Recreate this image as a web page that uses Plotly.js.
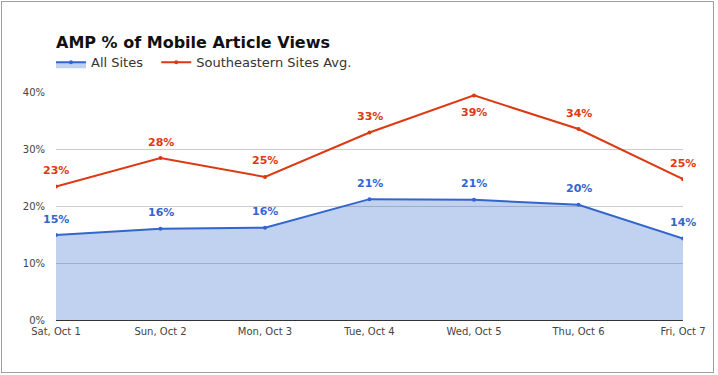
<!DOCTYPE html>
<html>
<head>
<meta charset="utf-8">
<script src="https://cdn.plot.ly/plotly-3.0.1.min.js"></script>
<style>
  html, body { margin: 0; padding: 0; background: #fff; }
  #chart { width: 718px; height: 375px; }
  #frame { position: absolute; left: 1px; top: 1px; width: 711px; height: 370px;
           border: 1px solid #a0a0a0; pointer-events: none; }
</style>
</head>
<body>
<div id="chart"></div>
<div id="frame"></div>
<script>
const categories = ["Sat, Oct 1", "Sun, Oct 2", "Mon, Oct 3", "Tue, Oct 4", "Wed, Oct 5", "Thu, Oct 6", "Fri, Oct 7"];
const allSites = [14.9, 16.0, 16.2, 21.2, 21.1, 20.2, 14.3];
const southeastern = [23.4, 28.4, 25.1, 32.9, 39.4, 33.5, 24.7];
const seriesNames = ["All Sites", "Southeastern Sites Avg."];
const yTicks = [0, 10, 20, 30, 40];
const yTickLabels = ["0%", "10%", "20%", "30%", "40%"];

const BLUE = "#3366cc", RED = "#dc3912";
const xIdx = categories.map((_, i) => i);

const traces = [
  {
    x: xIdx, y: allSites, name: seriesNames[0] + "\u00a0\u00a0", type: "scatter", mode: "lines+markers",
    line: { color: BLUE, width: 2 }, marker: { color: BLUE, size: 4 },
    fill: "tozeroy", fillcolor: "rgba(51,102,204,0.3)", hoverinfo: "none"
  },
  {
    x: xIdx, y: southeastern, name: seriesNames[1], type: "scatter", mode: "lines+markers",
    line: { color: RED, width: 2 }, marker: { color: RED, size: 4 }, hoverinfo: "none"
  }
];

function labels(vals, color) {
  return vals.map((v, i) => ({
    x: i, y: v, xref: "x", yref: "y", showarrow: false,
    text: Math.round(v) + "%",
    yshift: v > 38 ? -17 : 16,
    font: { family: "DejaVu Sans, Verdana, sans-serif", size: 11, color: color, weight: "bold" }
  }));
}

const layout = {
  width: 718, height: 375,
  margin: { l: 56, r: 35, t: 92, b: 55 },
  paper_bgcolor: "#fff", plot_bgcolor: "#fff",
  font: { family: "DejaVu Sans, Verdana, sans-serif", size: 10, color: "#444" },
  title: {
    text: "<b>AMP % of Mobile Article Views</b>",
    font: { family: "DejaVu Sans, Verdana, sans-serif", size: 16, color: "#111" },
    xref: "paper", x: 0, xanchor: "left",
    yref: "container", y: 1 - 42 / 375, yanchor: "middle"
  },
  showlegend: true,
  legend: {
    orientation: "h", x: -0.008, xanchor: "left", y: 1.13, yanchor: "middle",
    font: { family: "DejaVu Sans, Verdana, sans-serif", size: 13, color: "#333" },
    itemwidth: 30, bgcolor: "rgba(0,0,0,0)"
  },
  xaxis: {
    range: [0, 6], tickmode: "array", tickvals: xIdx, ticktext: categories,
    showgrid: false, zeroline: false, showline: true, linecolor: "#333", linewidth: 1,
    ticks: "outside", ticklen: 2, tickcolor: "rgba(0,0,0,0)", fixedrange: true,
    tickfont: { size: 10, color: "#444" }
  },
  yaxis: {
    range: [0, 40], tickmode: "array", tickvals: yTicks, ticktext: yTickLabels,
    showgrid: true, gridcolor: "#cccccc", gridwidth: 1, zeroline: false, showline: false,
    ticks: "outside", ticklen: 8, tickcolor: "rgba(0,0,0,0)", fixedrange: true,
    tickfont: { size: 10, color: "#444" }
  },
  annotations: labels(allSites, BLUE).concat(labels(southeastern, RED))
};

Plotly.newPlot("chart", traces, layout, { displayModeBar: false, staticPlot: true });
</script>
</body>
</html>
